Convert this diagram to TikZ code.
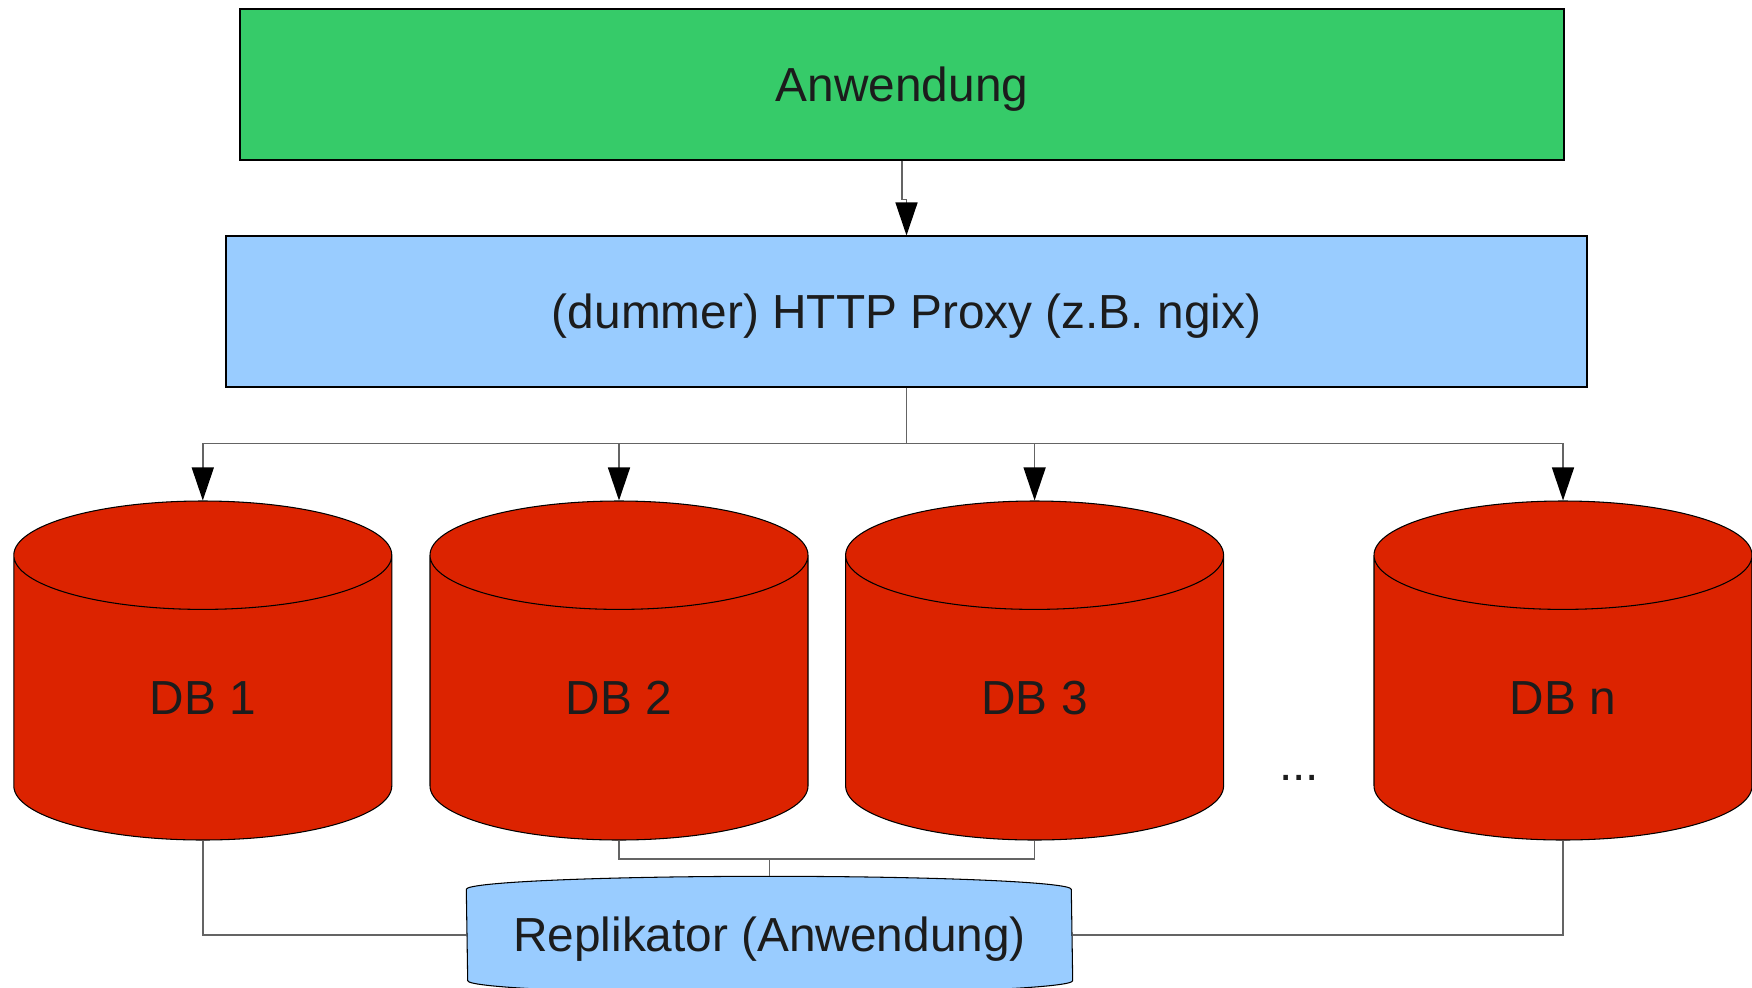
\documentclass[tikz,border=0pt]{standalone}
\usepackage{fontspec}
\setmainfont{Liberation Sans}
\usetikzlibrary{shapes.geometric,arrows.meta,backgrounds}
\definecolor{anwgreen}{RGB}{54,203,105}
\definecolor{proxyblue}{RGB}{153,204,255}
\definecolor{dbred}{RGB}{220,35,0}
\definecolor{txtgray}{RGB}{28,28,28}
\definecolor{wiregray}{RGB}{100,100,100}

\begin{document}
\begin{tikzpicture}[
  every node/.style={text=txtgray,font=\fontsize{13.6}{16}\selectfont,text height=12.4pt,text depth=2.9pt},
  box/.style={draw,line width=0.3pt,inner sep=0pt,minimum height=1.51cm},
  db/.style={cylinder,shape border rotate=90,aspect=1.02,draw,line width=0.3pt,
    fill=dbred,minimum width=3.78cm,minimum height=3.39cm,inner sep=0pt,anchor=shape center},
  wire/.style={draw=wiregray,line width=0.4pt},
  arr/.style={wire,-{Triangle[length=0.33cm,width=0.22cm,color=black]}}
]
\useasboundingbox (0,0) rectangle (17.52,-9.87);
\node[box,fill=anwgreen,minimum width=13.24cm] (anw) at (9.02,-0.845) {Anwendung};
\node[box,fill=proxyblue,minimum width=13.61cm] (proxy) at (9.065,-3.115) {(dummer) HTTP Proxy (z.B. ngix)};
\node[db] (db1) at (2.028,-6.705) {DB 1};
\node[db] (db2) at (6.19,-6.705) {DB 2};
\node[db] (db3) at (10.346,-6.705) {DB 3};
\node[db] (dbn) at (15.63,-6.705) {DB n};
\node[anchor=base] (dots) at (12.99,-7.80) {...};
\node[minimum width=6.05cm,minimum height=1.16cm,inner sep=0pt] (rep) at (7.695,-9.35) {Replikator (Anwendung)};
\begin{scope}[on background layer]
\draw[line width=0.3pt,fill=proxyblue] ([yshift=-0.13cm]rep.north west)
  arc[start angle=180,end angle=0,x radius=3.025cm,y radius=0.13cm]
  -- ([yshift=0.13cm]rep.south east)
  arc[start angle=0,end angle=-180,x radius=3.025cm,y radius=0.13cm] -- cycle;
\end{scope}
% proxy
\draw[arr] (anw.south) -- ++(0,-0.39) -| (proxy.north);
\coordinate (bus) at (9.065,-4.436);
\draw[wire] (proxy.south) -- (bus);
\draw[arr] (bus) -| (db1.north);
\draw[arr] (bus) -| (db2.north);
\draw[arr] (bus) -| (db3.north);
\draw[arr] (bus) -| (dbn.north);
% replikator
\coordinate (join) at (7.695,-8.59);
\draw[wire] (db2.south) |- (join) -| (db3.south);
\draw[wire] (join) -- (rep.north);
\draw[wire] (db1.south) |- (rep.west);
\draw[wire] (dbn.south) |- (rep.east);
\end{tikzpicture}
\end{document}
